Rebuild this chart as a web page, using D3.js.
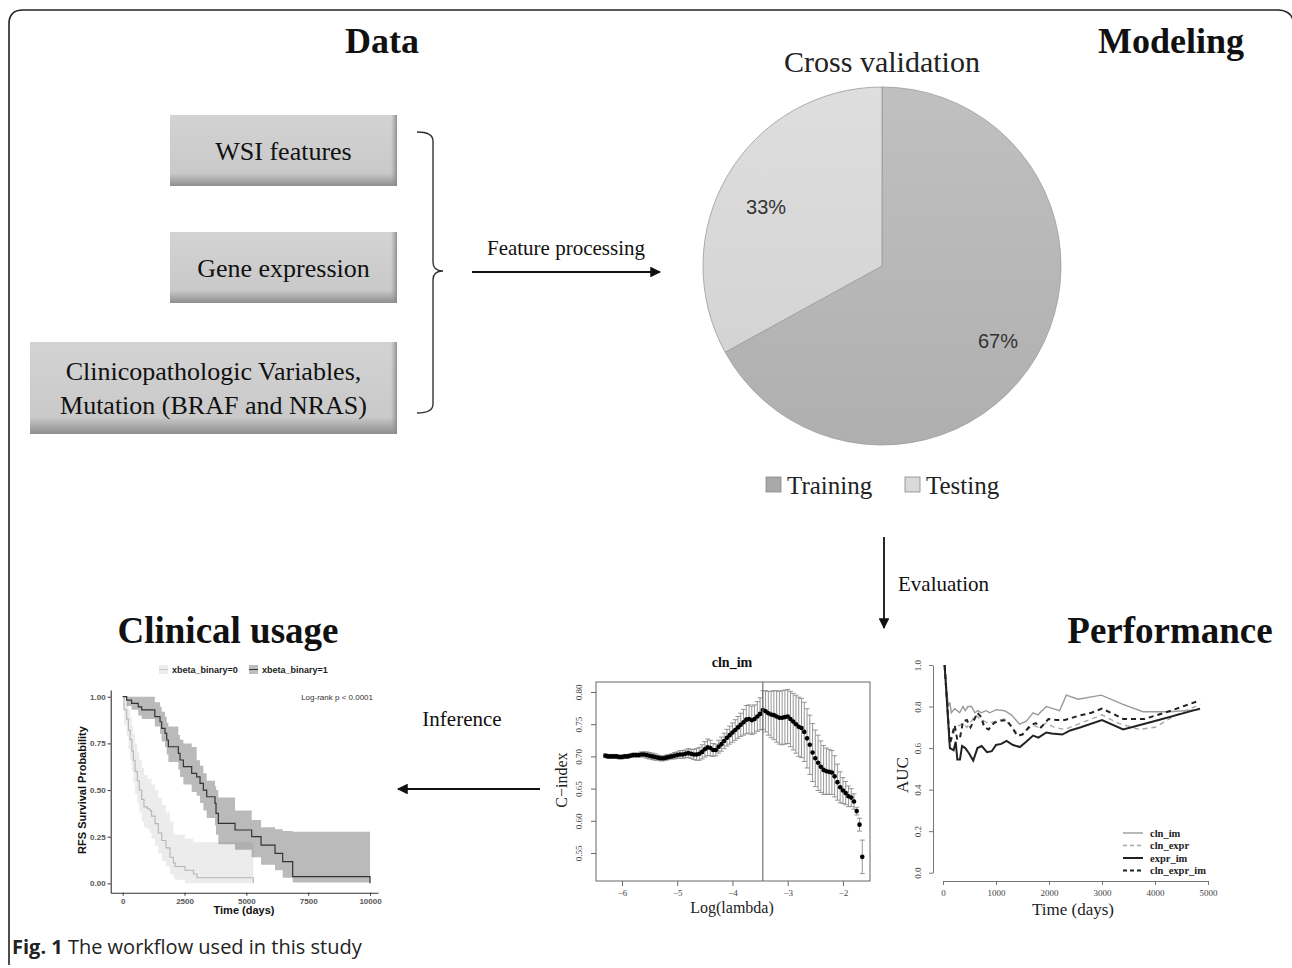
<!DOCTYPE html>
<html>
<head>
<meta charset="utf-8">
<script src="https://cdn.jsdelivr.net/npm/d3@7"></script>
<style>
  body { margin: 0; background: #fff; }
  svg { display: block; }
  .serif { font-family: "Liberation Serif", "DejaVu Serif", serif; }
  .sans { font-family: "Liberation Sans", Arial, sans-serif; }
</style>
</head>
<body>
<svg id="fig" width="1292" height="968"></svg>
<script>
// ---- datos ----
const dataBoxes = [
  ["WSI features"],
  ["Gene expression"],
  ["Clinicopathologic Variables,", "Mutation (BRAF and NRAS)"]
];
const pieLabels = ["Training", "Testing"];
const pieValues = [67, 33];

// KM: grupo 1 (riesgo bajo)
const km1Time  = [0, 160, 360, 630, 770, 1300, 1510, 1577, 1712, 1780, 1846, 2250, 2318, 2453, 2790, 2992, 3127, 3262, 3396, 3733, 3774, 3868, 4542, 5216, 5593, 6159, 6469, 6873, 10000];
const km1Surv  = [1.0, 0.982, 0.964, 0.946, 0.929, 0.893, 0.866, 0.830, 0.804, 0.768, 0.732, 0.696, 0.661, 0.625, 0.589, 0.571, 0.536, 0.500, 0.464, 0.429, 0.375, 0.321, 0.286, 0.250, 0.205, 0.161, 0.116, 0.036, 0.0];
const km1Upper = [1.0, 1.0, 1.0, 1.0, 1.0, 0.97, 0.946, 0.92, 0.893, 0.86, 0.84, 0.795, 0.77, 0.75, 0.73, 0.66, 0.63, 0.59, 0.55, 0.52, 0.50, 0.46, 0.39, 0.34, 0.30, 0.29, 0.28, 0.277, 0.277];
const km1Lower = [1.0, 0.95, 0.93, 0.90, 0.88, 0.84, 0.80, 0.76, 0.73, 0.69, 0.65, 0.61, 0.57, 0.53, 0.49, 0.47, 0.43, 0.39, 0.35, 0.31, 0.26, 0.21, 0.18, 0.14, 0.10, 0.07, 0.03, 0.005, 0.0];
// KM: grupo 0 (riesgo alto)
const km0Time  = [0, 50, 160, 230, 300, 370, 430, 500, 590, 670, 770, 860, 1000, 1100, 1170, 1310, 1440, 1580, 1750, 1910, 2050, 2120, 2520, 2860, 3000, 5280];
const km0Surv  = [1.0, 0.93, 0.88, 0.82, 0.77, 0.71, 0.66, 0.60, 0.55, 0.50, 0.45, 0.41, 0.40, 0.39, 0.36, 0.32, 0.27, 0.23, 0.19, 0.14, 0.11, 0.09, 0.07, 0.05, 0.03, 0.0];
const km0Upper = [1.0, 1.0, 0.97, 0.93, 0.89, 0.84, 0.80, 0.75, 0.70, 0.66, 0.62, 0.58, 0.56, 0.56, 0.53, 0.50, 0.46, 0.42, 0.38, 0.33, 0.27, 0.26, 0.24, 0.22, 0.22, 0.22];
const km0Lower = [1.0, 0.85, 0.79, 0.72, 0.66, 0.60, 0.54, 0.48, 0.43, 0.38, 0.33, 0.30, 0.29, 0.27, 0.24, 0.20, 0.16, 0.12, 0.09, 0.05, 0.03, 0.02, 0.0, 0.0, 0.0, 0.0];
const kmTicksX = [0, 2500, 5000, 7500, 10000];
const kmTicksY = [0, 0.25, 0.5, 0.75, 1.0];

// C-index vs log(lambda)
const cvLogLambdaStart = -6.30, cvLogLambdaStep = 0.05;
const cvMean = [
  0.701,0.700,0.700,0.700,0.700,0.699,0.699,0.700,0.700,0.701,0.702,
  0.702,0.702,0.703,0.703,0.702,0.701,0.700,0.699,0.698,0.697,
  0.697,0.698,0.699,0.700,0.701,0.702,0.703,0.703,0.704,0.705,
  0.704,0.703,0.703,0.704,0.707,0.711,0.714,0.713,0.710,0.710,
  0.715,0.719,0.724,0.729,0.733,0.737,0.741,0.745,0.749,0.753,
  0.757,0.758,0.756,0.758,0.762,0.766,0.772,0.770,0.767,0.765,
  0.764,0.762,0.760,0.760,0.761,0.762,0.758,0.754,0.750,0.746,
  0.744,0.738,0.728,0.718,0.706,0.697,0.690,0.684,0.679,0.677,
  0.676,0.675,0.669,0.660,0.652,0.647,0.643,0.638,0.636,0.630,
  0.615,0.594,0.544
];
const cvSE = [
  0.003,0.003,0.003,0.003,0.003,0.003,0.003,0.003,0.003,0.003,0.003,
  0.003,0.003,0.004,0.004,0.005,0.005,0.005,0.005,0.004,0.004,
  0.004,0.004,0.004,0.004,0.005,0.005,0.006,0.006,0.006,0.007,
  0.007,0.008,0.009,0.010,0.011,0.012,0.013,0.012,0.010,0.009,
  0.010,0.011,0.012,0.013,0.014,0.015,0.016,0.017,0.018,0.020,
  0.022,0.022,0.022,0.022,0.023,0.025,0.030,0.032,0.034,0.036,
  0.038,0.040,0.041,0.042,0.042,0.042,0.043,0.044,0.045,0.046,
  0.046,0.046,0.046,0.046,0.045,0.044,0.043,0.040,0.038,0.036,
  0.035,0.034,0.032,0.028,0.024,0.020,0.018,0.016,0.014,0.012,
  0.006,0.010,0.026
];
const cvLambdaMin = -3.45;
const cvTicksX = [-6, -5, -4, -3, -2];
const cvTicksY = [0.55, 0.60, 0.65, 0.70, 0.75, 0.80];

// AUC dependiente del tiempo
const aucNames = ["cln_im", "cln_expr", "expr_im", "cln_expr_im"];
const aucClnImT   = [30, 100, 130, 157, 220, 314, 377, 420, 470, 540, 600, 660, 723, 818, 880, 1006, 1160, 1290, 1446, 1572, 1700, 1790, 1950, 2075, 2200, 2327, 2547, 2987, 3396, 3774, 4277, 4843];
const aucClnImV   = [1.0, 0.80, 0.82, 0.77, 0.79, 0.77, 0.80, 0.78, 0.80, 0.80, 0.77, 0.78, 0.77, 0.78, 0.77, 0.785, 0.78, 0.76, 0.715, 0.73, 0.77, 0.76, 0.80, 0.79, 0.78, 0.855, 0.835, 0.855, 0.81, 0.775, 0.775, 0.785];
const aucClnExprT = [30, 130, 250, 380, 450, 620, 700, 850, 1000, 1160, 1300, 1450, 1600, 1700, 1800, 1950, 2100, 2300, 2500, 2800, 3000, 3300, 3700, 4000, 4400, 4850];
const aucClnExprV = [1.0, 0.62, 0.70, 0.72, 0.70, 0.76, 0.74, 0.72, 0.73, 0.74, 0.70, 0.66, 0.69, 0.71, 0.70, 0.72, 0.70, 0.69, 0.71, 0.74, 0.76, 0.72, 0.69, 0.70, 0.76, 0.81];
const aucExprImT  = [30, 130, 200, 240, 270, 320, 360, 420, 490, 570, 650, 730, 830, 920, 1000, 1100, 1200, 1320, 1450, 1570, 1700, 1800, 1950, 2050, 2250, 2400, 2600, 3000, 3400, 4000, 4850];
const aucExprImV  = [1.0, 0.60, 0.59, 0.63, 0.545, 0.545, 0.61, 0.60, 0.575, 0.54, 0.60, 0.61, 0.58, 0.585, 0.615, 0.62, 0.635, 0.615, 0.605, 0.63, 0.66, 0.65, 0.675, 0.67, 0.665, 0.685, 0.70, 0.735, 0.69, 0.73, 0.79];
const aucAllT     = [30, 130, 220, 270, 320, 380, 450, 520, 650, 720, 780, 860, 960, 1050, 1200, 1300, 1400, 1500, 1650, 1750, 1850, 1990, 2150, 2300, 2550, 2800, 3000, 3250, 3400, 3800, 4300, 4850];
const aucAllV     = [1.0, 0.62, 0.71, 0.64, 0.65, 0.73, 0.735, 0.70, 0.77, 0.75, 0.70, 0.69, 0.72, 0.73, 0.735, 0.70, 0.66, 0.665, 0.71, 0.72, 0.70, 0.74, 0.735, 0.735, 0.755, 0.77, 0.79, 0.76, 0.74, 0.74, 0.78, 0.83];
const aucTicksX = [0, 1000, 2000, 3000, 4000, 5000];
const aucTicksY = [0, 0.2, 0.4, 0.6, 0.8, 1.0];

const svg = d3.select("#fig");
const defs = svg.append("defs");
const INK = "#111";

// Marco con esquinas redondeadas
svg.append("path")
  .attr("d", "M9,965 L9,24 Q9,10 23,10 L1278,10 Q1292,10 1294,24")
  .attr("fill", "none").attr("stroke", "#222").attr("stroke-width", 1.6);

// Flechas
defs.append("marker").attr("id", "arrow")
  .attr("viewBox", "0 0 10 10").attr("refX", 9).attr("refY", 5)
  .attr("markerWidth", 6).attr("markerHeight", 6).attr("orient", "auto")
  .append("path").attr("d", "M0,0 L10,5 L0,10 z").attr("fill", INK);

function arrow(x1, y1, x2, y2) {
  svg.append("line").attr("x1", x1).attr("y1", y1).attr("x2", x2).attr("y2", y2)
    .attr("stroke", INK).attr("stroke-width", 1.8).attr("marker-end", "url(#arrow)");
}

function label(x, y, txt, size, opts = {}) {
  return svg.append("text").attr("class", opts.cls || "serif")
    .attr("x", x).attr("y", y).attr("text-anchor", opts.anchor || "middle")
    .attr("font-size", size).attr("font-weight", opts.bold ? "bold" : "normal")
    .attr("fill", opts.fill || INK).text(txt);
}

// Titulos de seccion
label(382, 53, "Data", 36, { bold: true });
label(1171, 53, "Modeling", 36, { bold: true });
label(228, 643, "Clinical usage", 37, { bold: true });
label(1170, 643, "Performance", 37, { bold: true });

// ---- Cajas de datos ----
function drawBoxes() {
  const gV = defs.append("linearGradient").attr("id", "boxV").attr("x1", 0).attr("y1", 0).attr("x2", 0).attr("y2", 1);
  gV.append("stop").attr("offset", "0%").attr("stop-color", "#d3d3d3");
  gV.append("stop").attr("offset", "82%").attr("stop-color", "#c9c9c9");
  gV.append("stop").attr("offset", "100%").attr("stop-color", "#8e8e8e");
  const gH = defs.append("linearGradient").attr("id", "boxH").attr("x1", 0).attr("y1", 0).attr("x2", 1).attr("y2", 0);
  gH.append("stop").attr("offset", "0%").attr("stop-color", "#999").attr("stop-opacity", 0);
  gH.append("stop").attr("offset", "100%").attr("stop-color", "#888").attr("stop-opacity", 0.9);

  const boxes = [
    { x: 170, y: 115, w: 227, h: 71 },
    { x: 170, y: 232, w: 227, h: 71 },
    { x: 30, y: 342, w: 367, h: 92 }
  ];
  boxes.forEach((b, i) => {
    svg.append("rect").attr("x", b.x).attr("y", b.y).attr("width", b.w).attr("height", b.h).attr("fill", "url(#boxV)");
    svg.append("rect").attr("x", b.x + b.w - 6).attr("y", b.y).attr("width", 6).attr("height", b.h).attr("fill", "url(#boxH)");
    const lines = dataBoxes[i];
    const cx = b.x + b.w / 2;
    if (lines.length === 1) {
      label(cx, b.y + b.h / 2 + 9, lines[0], 26);
    } else {
      label(cx, b.y + 38, lines[0], 26);
      label(cx, b.y + 72, lines[1], 26);
    }
  });

  // llave
  svg.append("path")
    .attr("d", "M417,132 Q433,132 433,141 L433,262 Q433,271 443,271 Q433,271 433,280 L433,404 Q433,413 417,413")
    .attr("fill", "none").attr("stroke", "#333").attr("stroke-width", 1.4);
}

// ---- Tarta de validacion cruzada ----
function drawPie() {
  const cx = 882, cy = 266, r = 179;
  const colors = { Training: "#a9a9a9", Testing: "#dadada" };
  const gT = defs.append("linearGradient").attr("id", "pieTrain").attr("x1", 0).attr("y1", 0).attr("x2", 0).attr("y2", 1);
  gT.append("stop").attr("offset", "0%").attr("stop-color", "#c0c0c0");
  gT.append("stop").attr("offset", "100%").attr("stop-color", "#afafaf");
  const gS = defs.append("linearGradient").attr("id", "pieTest").attr("x1", 0).attr("y1", 0).attr("x2", 0).attr("y2", 1);
  gS.append("stop").attr("offset", "0%").attr("stop-color", "#dedede");
  gS.append("stop").attr("offset", "100%").attr("stop-color", "#d4d4d4");

  const pie = d3.pie().sort(null)(pieValues);
  const arc = d3.arc().innerRadius(0).outerRadius(r);
  const g = svg.append("g").attr("transform", `translate(${cx},${cy})`);
  g.selectAll("path").data(pie).enter().append("path")
    .attr("d", arc)
    .attr("fill", (d, i) => i === 0 ? "url(#pieTrain)" : "url(#pieTest)")
    .attr("stroke", "#9a9a9a").attr("stroke-width", 0.8);

  // etiquetas de porcentaje, algo desplazadas como en el original
  const lblArc = d3.arc().innerRadius(r * 0.72).outerRadius(r * 0.72);
  const nudge = [[5, 9], [-5, 7]];
  g.selectAll("text.pct").data(pie).enter().append("text")
    .attr("class", "sans pct")
    .attr("transform", (d, i) => {
      const c = lblArc.centroid(d);
      return `translate(${c[0] + nudge[i][0]},${c[1] + nudge[i][1]})`;
    })
    .attr("text-anchor", "middle").attr("dy", "0.35em")
    .attr("font-size", 20).attr("fill", "#333")
    .text(d => d.data + "%");

  label(882, 72, "Cross validation", 30, { fill: "#222" });

  // leyenda
  const legX = [766, 905];
  pieLabels.forEach((name, i) => {
    svg.append("rect").attr("x", legX[i]).attr("y", 477).attr("width", 15).attr("height", 15)
      .attr("fill", colors[name]).attr("stroke", "#888").attr("stroke-width", 0.8);
    label(legX[i] + 21, 494, name, 25, { anchor: "start", fill: "#222" });
  });
}

// ---- Curva de supervivencia ----
function drawKM() {
  const x = d3.scaleLinear().domain([-485, 10323]).range([110.7, 378]);
  const y = d3.scaleLinear().domain([-0.05, 1.036]).range([892.7, 690]);
  const g = svg.append("g");

  const toRows = (t, s, lo, hi) => t.map((v, i) => ({ t: v, s: s[i], lo: lo[i], hi: hi[i] }));
  const g0 = toRows(km0Time, km0Surv, km0Lower, km0Upper);
  const g1 = toRows(km1Time, km1Surv, km1Lower, km1Upper);

  const band = d3.area().curve(d3.curveStepAfter).x(d => x(d.t)).y0(d => y(d.lo)).y1(d => y(d.hi));
  const line = d3.line().curve(d3.curveStepAfter).x(d => x(d.t)).y(d => y(d.s));

  g.append("path").attr("d", band(g0)).attr("fill", "#c8c8c8").attr("opacity", 0.35);
  g.append("path").attr("d", band(g1)).attr("fill", "#5a5a5a").attr("opacity", 0.42);
  g.append("path").attr("d", line(g0)).attr("fill", "none").attr("stroke", "#b5b5b5").attr("stroke-width", 1.1);
  g.append("path").attr("d", line(g1)).attr("fill", "none").attr("stroke", "#333").attr("stroke-width", 1.2);

  const ax = g.append("g").attr("transform", "translate(0,892.7)")
    .call(d3.axisBottom(x).tickValues(kmTicksX).tickFormat(d3.format("d")).tickSize(3).tickSizeOuter(0).tickPadding(3));
  const ay = g.append("g").attr("transform", "translate(110.7,0)")
    .call(d3.axisLeft(y).tickValues(kmTicksY).tickFormat(d3.format(".2f")).tickSize(3).tickSizeOuter(0).tickPadding(2));
  [ax, ay].forEach(a => {
    a.select(".domain").attr("stroke", "#333").attr("stroke-width", 1.1);
    a.selectAll(".tick line").attr("stroke", "#333");
    a.selectAll("text").attr("class", "sans").attr("font-size", 8).attr("font-weight", "bold").attr("fill", "#555");
  });

  svg.append("text").attr("class", "sans").attr("font-size", 11).attr("font-weight", "bold").attr("fill", INK)
    .attr("text-anchor", "middle").attr("transform", "translate(86,790) rotate(-90)")
    .text("RFS Survival Probability");
  label(244, 914, "Time (days)", 11, { cls: "sans", bold: true });
  label(373, 700, "Log-rank p < 0.0001", 8, { cls: "sans", anchor: "end", fill: "#333" });

  // leyenda
  const keys = [
    { x: 159, fill: "#ececec", stroke: "#c8c8c8", text: "xbeta_binary=0" },
    { x: 249, fill: "#bdbdbd", stroke: "#333", text: "xbeta_binary=1" }
  ];
  keys.forEach(k => {
    svg.append("rect").attr("x", k.x).attr("y", 665).attr("width", 9).attr("height", 9).attr("fill", k.fill);
    svg.append("line").attr("x1", k.x).attr("x2", k.x + 9).attr("y1", 669.5).attr("y2", 669.5).attr("stroke", k.stroke);
    label(k.x + 13, 673, k.text, 9, { cls: "sans", bold: true, anchor: "start", fill: "#222" });
  });
}

// ---- Validacion cruzada C-index ----
function drawCV() {
  const x = d3.scaleLinear().domain([-6.47, -1.51]).range([596, 870]);
  const y = d3.scaleLinear().domain([0.5065, 0.8155]).range([881, 682]);
  const g = svg.append("g");
  const pts = cvMean.map((m, i) => ({ l: cvLogLambdaStart + i * cvLogLambdaStep, m: m, se: cvSE[i] }));

  const eb = g.append("g").attr("stroke", "#8a8a8a").attr("stroke-width", 0.9);
  pts.forEach(d => {
    const px = x(d.l), yt = y(d.m + d.se), yb = y(d.m - d.se);
    eb.append("line").attr("x1", px).attr("x2", px).attr("y1", yt).attr("y2", yb);
    eb.append("line").attr("x1", px - 2.5).attr("x2", px + 2.5).attr("y1", yt).attr("y2", yt);
    eb.append("line").attr("x1", px - 2.5).attr("x2", px + 2.5).attr("y1", yb).attr("y2", yb);
  });
  g.selectAll("circle").data(pts).enter().append("circle")
    .attr("cx", d => x(d.l)).attr("cy", d => y(d.m)).attr("r", 2.3).attr("fill", "#000");

  g.append("line").attr("x1", x(cvLambdaMin)).attr("x2", x(cvLambdaMin)).attr("y1", 682).attr("y2", 881)
    .attr("stroke", "#666").attr("stroke-width", 1.1);
  g.append("rect").attr("x", 596).attr("y", 682).attr("width", 274).attr("height", 199)
    .attr("fill", "none").attr("stroke", "#666").attr("stroke-width", 1);

  const ax = g.append("g").attr("transform", "translate(0,881)")
    .call(d3.axisBottom(x).tickValues(cvTicksX).tickFormat(d => "\u2212" + Math.abs(d)).tickSize(5).tickPadding(4));
  const ay = g.append("g").attr("transform", "translate(596,0)")
    .call(d3.axisLeft(y).tickValues(cvTicksY).tickFormat(d3.format(".2f")).tickSize(5));
  [ax, ay].forEach(a => {
    a.select(".domain").remove();
    a.selectAll(".tick line").attr("stroke", "#666");
    a.selectAll("text").attr("class", "serif").attr("font-size", 9).attr("fill", "#444");
  });
  ay.selectAll(".tick text").attr("x", 0).attr("dy", 0).attr("text-anchor", "middle")
    .attr("transform", "translate(-14,0) rotate(-90)");

  label(732, 667, "cln_im", 14, { bold: true });
  label(732, 913, "Log(lambda)", 16, { fill: "#222" });
  svg.append("text").attr("class", "serif").attr("font-size", 16).attr("fill", "#222")
    .attr("text-anchor", "middle").attr("transform", "translate(567,780) rotate(-90)")
    .text("C\u2212index");
}

// ---- AUC ----
function drawAUC() {
  const x = d3.scaleLinear().domain([0, 5000]).range([943, 1208]);
  const y = d3.scaleLinear().domain([0, 1]).range([872.7, 665]);
  const g = svg.append("g");
  const series = [
    { name: aucNames[0], t: aucClnImT, v: aucClnImV, color: "#9a9a9a", w: 1.4, dash: null },
    { name: aucNames[1], t: aucClnExprT, v: aucClnExprV, color: "#a8a8a8", w: 1.4, dash: "5,4" },
    { name: aucNames[2], t: aucExprImT, v: aucExprImV, color: "#222", w: 2, dash: null },
    { name: aucNames[3], t: aucAllT, v: aucAllV, color: "#222", w: 2, dash: "5,4" }
  ];
  const line = d3.line().x(d => x(d[0])).y(d => y(d[1]));
  series.forEach(s => {
    g.append("path").attr("d", line(s.t.map((t, i) => [t, s.v[i]])))
      .attr("fill", "none").attr("stroke", s.color).attr("stroke-width", s.w)
      .attr("stroke-dasharray", s.dash);
  });

  const ax = g.append("g").attr("transform", "translate(0,881)")
    .call(d3.axisBottom(x).tickValues(aucTicksX).tickFormat(d3.format("d")).tickSize(4).tickSizeOuter(0).tickPadding(5));
  const ay = g.append("g").attr("transform", "translate(933,0)")
    .call(d3.axisLeft(y).tickValues(aucTicksY).tickFormat(d3.format(".1f")).tickSize(4).tickSizeOuter(0));
  [ax, ay].forEach(a => {
    a.select(".domain").attr("stroke", "#777");
    a.selectAll(".tick line").attr("stroke", "#777");
    a.selectAll("text").attr("class", "serif").attr("font-size", 9).attr("fill", "#444");
  });
  ay.selectAll(".tick text").attr("x", 0).attr("dy", 0).attr("text-anchor", "middle")
    .attr("transform", "translate(-12,0) rotate(-90)");

  label(1073, 915, "Time (days)", 17, { fill: "#222" });
  svg.append("text").attr("class", "serif").attr("font-size", 17).attr("fill", "#222")
    .attr("text-anchor", "middle").attr("transform", "translate(908,775) rotate(-90)")
    .text("AUC");

  // leyenda
  series.forEach((s, i) => {
    const ly = 833 + i * 12.5;
    svg.append("line").attr("x1", 1123).attr("x2", 1143).attr("y1", ly).attr("y2", ly)
      .attr("stroke", s.color).attr("stroke-width", s.w).attr("stroke-dasharray", s.dash ? "4,3" : null);
    label(1150, ly + 3.5, s.name, 10.5, { bold: true, anchor: "start", fill: "#222" });
  });
}

drawBoxes();
drawPie();
drawKM();
drawCV();
drawAUC();

// Flechas del flujo
label(566, 255, "Feature processing", 21);
arrow(472, 272, 660, 272);
arrow(884, 537, 884, 628);
label(898, 591, "Evaluation", 21, { anchor: "start" });
label(462, 726, "Inference", 21);
arrow(540, 789, 398, 789);

// Pie de figura
const cap = svg.append("text").attr("font-family", "'Open Sans', 'Noto Sans', sans-serif")
  .attr("x", 12).attr("y", 954).attr("font-size", 20).attr("fill", "#222");
cap.append("tspan").attr("font-weight", "bold").text("Fig. 1");
cap.append("tspan").text(" The workflow used in this study");
</script>
</body>
</html>
